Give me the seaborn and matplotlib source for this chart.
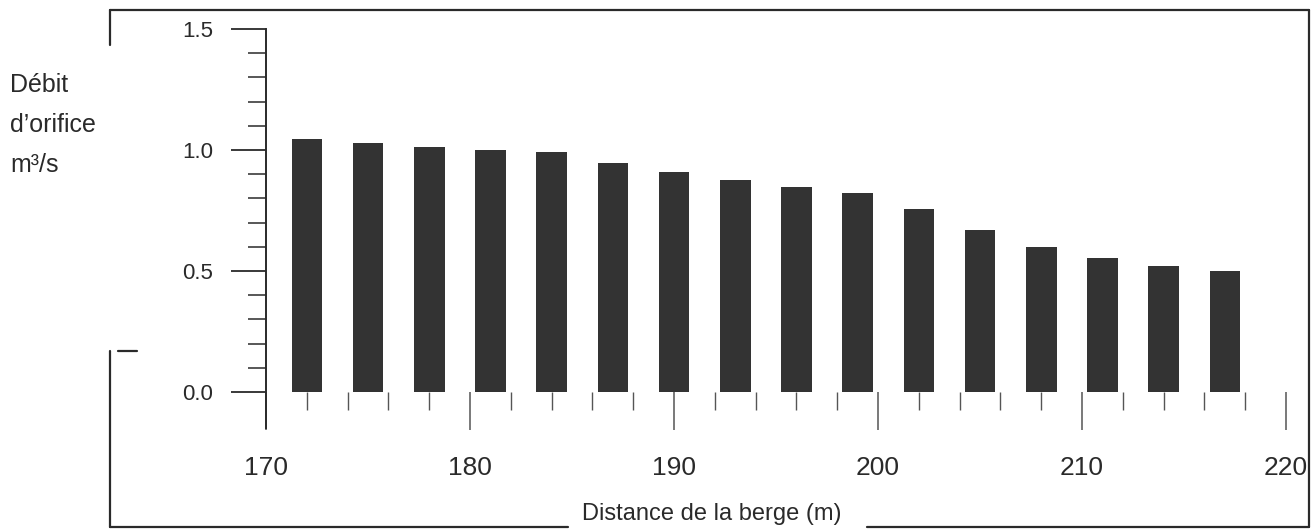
import matplotlib
matplotlib.use("Agg")
import matplotlib.pyplot as plt
import seaborn as sns
import pandas as pd
from matplotlib.lines import Line2D
from matplotlib.ticker import MultipleLocator, FixedLocator

# Data
distance = [172, 175, 178, 181, 184, 187, 190, 193, 196, 199, 202, 205, 208, 211, 214, 217]
debit = [1.044, 1.028, 1.014, 1.001, 0.990, 0.948, 0.910, 0.876,
         0.846, 0.824, 0.757, 0.668, 0.600, 0.554, 0.522, 0.501]
x_ticks = [170, 180, 190, 200, 210, 220]
y_ticks = [0.0, 0.5, 1.0, 1.5]
ylabel_lines = ["Débit", "d\u2019orifice", "m\u00b3/s"]
xlabel = "Distance de la berge (m)"

df = pd.DataFrame({"distance": distance, "debit": debit})

sns.set_style("white")
plt.rcParams['font.family'] = ['Liberation Sans', 'DejaVu Sans']

W, H = 1311, 529
fig = plt.figure(figsize=(W / 100, H / 100), dpi=100)
ax = fig.add_axes([266 / W, (H - 428) / H, (1286 - 266) / W, (428 - 29) / H])

sns.barplot(data=df, x="distance", y="debit", native_scale=True, width=0.5,
            color="#333333", saturation=1, errorbar=None, ax=ax, linewidth=0)

ink = "#2a2a2a"
ax.set_xlim(170, 220)
ax.set_ylim(-0.149, 1.5)
ax.set_xlabel("")
ax.set_ylabel("")

# spines
ax.spines['top'].set_visible(False)
ax.spines['right'].set_visible(False)
ax.spines['left'].set_color(ink)
ax.spines['left'].set_linewidth(1.4)
ax.spines['bottom'].set_position(('data', 0))
ax.spines['bottom'].set_color('none')

# y ticks
ax.yaxis.set_major_locator(FixedLocator(y_ticks))
ax.yaxis.set_minor_locator(FixedLocator([i / 10 for i in range(16)]))
ax.set_yticklabels([f"{v:.1f}" for v in y_ticks])
ax.tick_params(axis='y', which='both', left=True)
ax.tick_params(axis='y', which='major', direction='out', length=25, width=1.3,
               color=ink, pad=13, labelsize=16, labelcolor=ink)
ax.tick_params(axis='y', which='minor', direction='out', length=13, width=1.1, color=ink)

# x ticks hanging down from zero
ax.xaxis.set_major_locator(FixedLocator(x_ticks))
ax.xaxis.set_minor_locator(MultipleLocator(2))
ax.set_xticklabels([str(v) for v in x_ticks])
ax.tick_params(axis='x', which='both', bottom=True)
ax.tick_params(axis='x', which='major', direction='out', length=27, width=1.1,
               color="#555555", pad=19, labelsize=19, labelcolor=ink)
ax.tick_params(axis='x', which='minor', direction='out', length=13, width=1.0, color="#555555")

# axis labels
for i, line in enumerate(ylabel_lines):
    fig.text(10 / W, (H - 92 - 40 * i) / H, line, fontsize=18, color=ink,
             ha='left', va='baseline')
fig.text(712 / W, (H - 520) / H, xlabel, fontsize=17, color=ink,
         ha='center', va='baseline')

# outer frame (broken)
def seg(x0, y0, x1, y1, lw=1.6):
    fig.add_artist(Line2D([x0 / W, x1 / W], [(H - y0) / H, (H - y1) / H],
                          color=ink, linewidth=lw, transform=fig.transFigure))

seg(110, 10, 1309, 10)
seg(1309, 10, 1309, 527)
seg(110, 10, 110, 45)
seg(110, 351, 110, 527)
seg(118, 351, 137, 351)
seg(110, 527, 568, 527)
seg(867, 527, 1309, 527)

fig.savefig("out.png", dpi=100)
